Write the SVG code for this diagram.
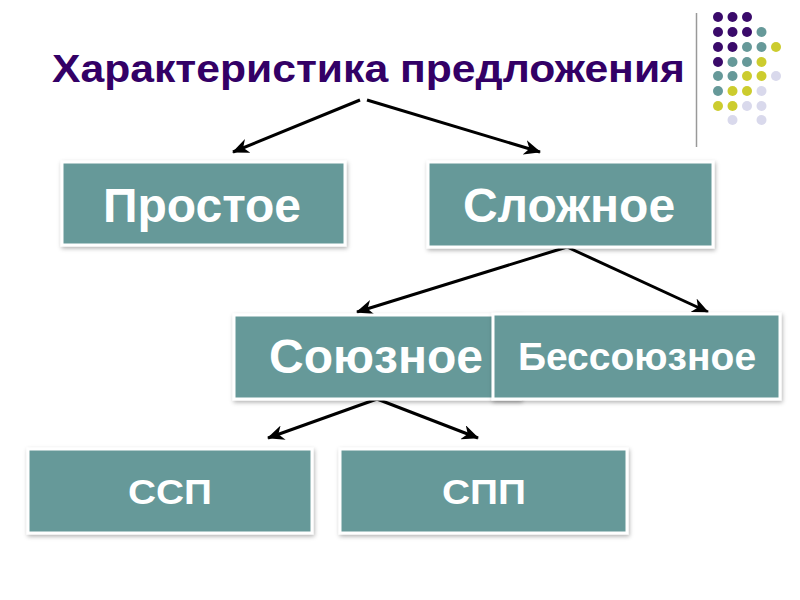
<svg xmlns="http://www.w3.org/2000/svg" width="800" height="600" viewBox="0 0 800 600">
  <defs>
    <filter id="sh" x="-10%" y="-10%" width="120%" height="130%">
      <feDropShadow dx="1" dy="2" stdDeviation="2" flood-color="#000" flood-opacity="0.3"/>
    </filter>
    <marker id="ah" markerUnits="userSpaceOnUse" markerWidth="17" markerHeight="15" viewBox="0 0 17 15" refX="16" refY="7.5" orient="auto">
      <path d="M0,0 L17,7.5 L0,15 L5,7.5 z" fill="#000"/>
    </marker>
    <style>
      .box { fill: #669999; stroke: #ffffff; stroke-width: 3; filter: url(#sh); }
      .lbl { fill: #ffffff; font-family: "Liberation Sans", Arial, sans-serif; font-weight: bold; text-anchor: middle; }
      .title { fill: #330066; font-family: "Liberation Sans", Arial, sans-serif; font-weight: bold; font-size: 39px; }
      .conn { stroke: #000; stroke-width: 3; fill: none; marker-end: url(#ah); }
      .p { fill: #3a0a6a; } .t { fill: #669999; } .y { fill: #cccc2e; } .l { fill: #d9d9ec; }
    </style>
  </defs>
  <rect width="800" height="600" fill="#ffffff"/>

  <g id="decor">
    <line x1="696.5" y1="13" x2="696.5" y2="147" stroke="#999999" stroke-width="1.5"/>
    <circle class="p" cx="718" cy="17" r="5"/><circle class="p" cx="732.5" cy="17" r="5"/><circle class="p" cx="747" cy="17" r="5"/>
    <circle class="p" cx="718" cy="32" r="5"/><circle class="p" cx="732.5" cy="32" r="5"/><circle class="p" cx="747" cy="32" r="5"/><circle class="t" cx="761.5" cy="32" r="5"/>
    <circle class="p" cx="718" cy="47" r="5"/><circle class="p" cx="732.5" cy="47" r="5"/><circle class="t" cx="747" cy="47" r="5"/><circle class="t" cx="761.5" cy="47" r="5"/><circle class="y" cx="776" cy="47" r="5"/>
    <circle class="p" cx="718" cy="62" r="5"/><circle class="t" cx="732.5" cy="62" r="5"/><circle class="t" cx="747" cy="62" r="5"/><circle class="y" cx="761.5" cy="62" r="5"/>
    <circle class="t" cx="718" cy="76" r="5"/><circle class="t" cx="732.5" cy="76" r="5"/><circle class="y" cx="747" cy="76" r="5"/><circle class="y" cx="761.5" cy="76" r="5"/><circle class="l" cx="776" cy="76" r="5"/>
    <circle class="t" cx="718" cy="91" r="5"/><circle class="y" cx="732.5" cy="91" r="5"/><circle class="y" cx="747" cy="91" r="5"/><circle class="l" cx="761.5" cy="91" r="5"/>
    <circle class="y" cx="718" cy="106" r="5"/><circle class="y" cx="732.5" cy="106" r="5"/><circle class="l" cx="747" cy="106" r="5"/><circle class="l" cx="761.5" cy="106" r="5"/>
    <circle class="l" cx="732.5" cy="120" r="5"/><circle class="l" cx="761.5" cy="120" r="5"/>
  </g>

  <g id="title">
    <text class="title" x="52" y="82" textLength="633" lengthAdjust="spacingAndGlyphs">Характеристика предложения</text>
  </g>

  <g id="connectors">
    <line class="conn" x1="360" y1="100" x2="233" y2="152"/>
    <line class="conn" x1="367" y1="100" x2="540" y2="152"/>
    <line class="conn" x1="567" y1="247" x2="357" y2="312"/>
    <line class="conn" x1="567" y1="247" x2="708" y2="312"/>
    <line class="conn" x1="377" y1="399" x2="268" y2="438"/>
    <line class="conn" x1="377" y1="399" x2="478" y2="438"/>
  </g>

  <g id="n-prostoe">
    <rect class="box" x="62" y="162" width="283" height="83"/>
    <text class="lbl" x="202" y="222" font-size="48">Простое</text>
  </g>
  <g id="n-slozhnoe">
    <rect class="box" x="428" y="162" width="285" height="85"/>
    <text class="lbl" x="569" y="222" font-size="48">Сложное</text>
  </g>
  <g id="n-soyuznoe">
    <rect class="box" x="234" y="315" width="286" height="84"/>
    <text class="lbl" x="376" y="373" font-size="48">Союзное</text>
  </g>
  <g id="n-bessoyuznoe">
    <rect class="box" x="493" y="314" width="287" height="85"/>
    <text class="lbl" x="637" y="370" font-size="39">Бессоюзное</text>
  </g>
  <g id="n-ssp">
    <rect class="box" x="28" y="449" width="284" height="84"/>
    <text class="lbl" x="170" y="504" font-size="35" textLength="84" lengthAdjust="spacingAndGlyphs">ССП</text>
  </g>
  <g id="n-spp">
    <rect class="box" x="340" y="449" width="287" height="84"/>
    <text class="lbl" x="484" y="504" font-size="35" textLength="84" lengthAdjust="spacingAndGlyphs">СПП</text>
  </g>
</svg>
